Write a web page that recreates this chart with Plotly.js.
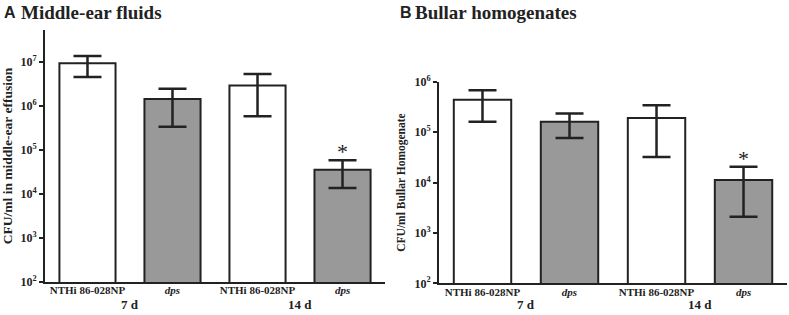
<!DOCTYPE html>
<html><head><meta charset="utf-8">
<script src="https://cdn.plot.ly/plotly-3.0.1.min.js"></script>
<style>html,body{margin:0;padding:0;background:#fff}</style>
</head><body>
<div id="chart" style="width:789px;height:315px"></div>
<script>
const positions = [0, 1, 2, 3];
const strainLabels = ["NTHi 86-028NP", "<i>dps</i>", "NTHi 86-028NP", "<i>dps</i>"];
const timeLabels = ["7 d", "14 d"];
const panelLetters = ["A", "B"];
const panelTitles = ["Middle-ear fluids", "Bullar homogenates"];
const barColors = ["#ffffff", "#999999", "#ffffff", "#999999"];

const fluidMean  = [9.5e6, 1.45e6, 2.95e6, 3.6e4];
const fluidUpper = [1.38e7, 2.5e6, 5.4e6, 5.9e4];
const fluidLower = [4.6e6, 3.4e5, 5.9e5, 1.38e4];

const bullaMean  = [4.4e5, 1.6e5, 1.9e5, 1.12e4];
const bullaUpper = [6.8e5, 2.35e5, 3.4e5, 2.05e4];
const bullaLower = [1.6e5, 7.6e4, 3.2e4, 2.1e3];

const fluidTicks = [1e2, 1e3, 1e4, 1e5, 1e6, 1e7];
const fluidTickText = ["10<sup>2</sup>","10<sup>3</sup>","10<sup>4</sup>","10<sup>5</sup>","10<sup>6</sup>","10<sup>7</sup>"];
const bullaTicks = [1e2, 1e3, 1e4, 1e5, 1e6];
const bullaTickText = ["10<sup>2</sup>","10<sup>3</sup>","10<sup>4</sup>","10<sup>5</sup>","10<sup>6</sup>"];

const serif = "Liberation Serif";
const sans = "Liberation Sans";
const ink = "#222222";

function barTrace(mean, upper, lower, xa, ya) {
  return {
    type: "bar", x: positions, y: mean, xaxis: xa, yaxis: ya,
    width: 0.66,
    marker: {color: barColors, line: {color: ink, width: 2}},
    error_y: {type: "data", symmetric: false,
      array: upper.map((u, i) => u - mean[i]),
      arrayminus: lower.map((l, i) => mean[i] - l),
      color: ink, thickness: 2.5, width: 14},
    hoverinfo: "y", showlegend: false
  };
}

const data = [
  barTrace(fluidMean, fluidUpper, fluidLower, "x", "y"),
  barTrace(bullaMean, bullaUpper, bullaLower, "x2", "y2")
];

function xAxis(domain, anchor) {
  return {domain: domain, range: [-0.5, 3.5], anchor: anchor,
    tickvals: positions, ticktext: strainLabels, ticks: "", ticklabelstandoff: -3,
    showline: true, linecolor: ink, linewidth: 2, showgrid: false, zeroline: false,
    tickfont: {family: serif, size: 11, color: ink, weight: "bold"}, fixedrange: true};
}
function yAxis(domain, range, anchor, tv, tt, title, tsize) {
  return {domain: domain, type: "log", range: range, anchor: anchor,
    tickvals: tv, ticktext: tt, ticks: "outside", ticklen: 4, tickwidth: 2, tickcolor: ink,
    showline: true, linecolor: ink, linewidth: 2, showgrid: false, zeroline: false,
    tickfont: {family: serif, size: 12, color: ink, weight: "bold"},
    title: {text: title, font: {family: serif, size: tsize, color: ink, weight: "bold"}, standoff: 6},
    fixedrange: true};
}

const titleFont = {family: serif, size: 19, color: ink, weight: "bold"};
const letterFont = {family: sans, size: 16, color: ink, weight: "bold"};
const timeFont = {family: serif, size: 13, color: ink, weight: "bold"};

const annotations = [
  {xref: "paper", yref: "paper", x: 0.003, y: 1.0, yshift: -2, xanchor: "left", yanchor: "top", showarrow: false,
   text: panelLetters[0], font: letterFont},
  {xref: "paper", yref: "paper", x: 0.024, y: 1.0, xanchor: "left", yanchor: "top", showarrow: false,
   text: panelTitles[0], font: titleFont},
  {xref: "paper", yref: "paper", x: 0.504, y: 1.0, yshift: -2, xanchor: "left", yanchor: "top", showarrow: false,
   text: panelLetters[1], font: letterFont},
  {xref: "paper", yref: "paper", x: 0.524, y: 1.0, xanchor: "left", yanchor: "top", showarrow: false,
   text: panelTitles[1], font: titleFont},
  {xref: "x", yref: "paper", x: 0.5, y: 0, yshift: 1, yanchor: "bottom", showarrow: false, text: timeLabels[0], font: timeFont},
  {xref: "x", yref: "paper", x: 2.5, y: 0, yshift: 1, yanchor: "bottom", showarrow: false, text: timeLabels[1], font: timeFont},
  {xref: "x2", yref: "paper", x: 0.5, y: 0, yshift: 1, yanchor: "bottom", showarrow: false, text: timeLabels[0], font: timeFont},
  {xref: "x2", yref: "paper", x: 2.5, y: 0, yshift: 1, yanchor: "bottom", showarrow: false, text: timeLabels[1], font: timeFont},
  {xref: "x", yref: "y", x: positions[3], y: Math.log10(fluidUpper[3]), yanchor: "bottom", yshift: -6,
   showarrow: false, text: "*", font: {family: serif, size: 22, color: ink}},
  {xref: "x2", yref: "y2", x: positions[3], y: Math.log10(bullaUpper[3]), yanchor: "bottom", yshift: -6,
   showarrow: false, text: "*", font: {family: serif, size: 22, color: ink}}
];

const layout = {
  width: 789, height: 315,
  margin: {l: 0, r: 0, t: 0, b: 0},
  paper_bgcolor: "#fff", plot_bgcolor: "#fff",
  xaxis: xAxis([0.057, 0.488], "y"),
  yaxis: yAxis([0.1048, 0.9048], [2, 7.733], "x", fluidTicks, fluidTickText, "CFU/ml in middle-ear effusion", 13.5),
  xaxis2: xAxis([0.5564, 0.9975], "y2"),
  yaxis2: yAxis([0.1006, 0.7406], [2, 6], "x2", bullaTicks, bullaTickText, "CFU/ml Bullar Homogenate", 11.5),
  annotations: annotations
};

Plotly.newPlot("chart", data, layout, {displayModeBar: false, staticPlot: true});
</script>
</body></html>
